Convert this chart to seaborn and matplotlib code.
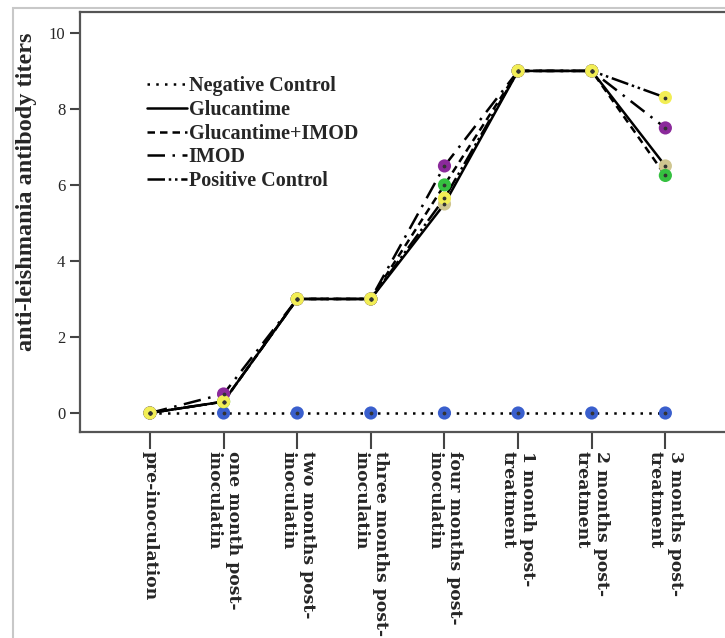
import matplotlib
matplotlib.use("Agg")
import matplotlib.pyplot as plt
import matplotlib.patches as mpatches
import seaborn as sns
import pandas as pd

# === DATA ===
time_points = ["pre-inoculation", "one month post-\ninoculatin", "two months post-\ninoculatin",
               "three months post-\ninoculatin", "four months post-\ninoculatin",
               "1 month post-\ntreatment", "2 months post-\ntreatment", "3 months post-\ntreatment"]
groups = ["Negative Control", "Glucantime", "Glucantime+IMOD", "IMOD", "Positive Control"]
negative_control = [0, 0, 0, 0, 0, 0, 0, 0]
glucantime = [0, 0.3, 3, 3, 5.5, 9, 9, 6.5]
glucantime_imod = [0, 0.3, 3, 3, 6.0, 9, 9, 6.25]
imod = [0, 0.5, 3, 3, 6.5, 9, 9, 7.5]
positive_control = [0, 0.3, 3, 3, 5.65, 9, 9, 8.3]

series = [negative_control, glucantime, glucantime_imod, imod, positive_control]
rows = []
for g, vals in zip(groups, series):
    for i, v in enumerate(vals):
        rows.append({"pos": i, "titer": v, "group": g})
df = pd.DataFrame(rows)

# === STYLE ===
sns.set_style("ticks")
plt.rcParams["font.family"] = ["Liberation Serif", "DejaVu Serif"]

dashes = {
    "Negative Control": (1, 2.5),
    "Glucantime": "",
    "Glucantime+IMOD": (3, 2),
    "IMOD": (7, 3, 1, 3),
    "Positive Control": (7, 1.5, 1, 1.5, 1, 1.5),
}
marker_colors = {
    "Negative Control": "#3a5fcd",
    "Glucantime": "#cfc690",
    "Glucantime+IMOD": "#35c040",
    "IMOD": "#8b2a9b",
    "Positive Control": "#f2ee55",
}

fig = plt.figure(figsize=(7.25, 6.38), dpi=100)
ax = fig.add_axes([80 / 725, 1 - 432 / 638, 1 - 80 / 725, (432 - 12) / 638])

# light frame around the chart
fig.add_artist(mpatches.Rectangle((13 / 725, -0.02), 1.0, 1 - 8 / 638 + 0.02,
                                  transform=fig.transFigure, fill=False,
                                  edgecolor="#c8c8c8", lw=1.5))

sns.lineplot(data=df, x="pos", y="titer", style="group", style_order=groups,
             dashes=dashes, color="black", linewidth=1.8, estimator=None,
             sort=False, ax=ax)
sns.scatterplot(data=df, x="pos", y="titer", hue="group", hue_order=groups,
                palette=marker_colors, s=90, edgecolor="none", legend=False,
                zorder=5, ax=ax)
ax.scatter(df["pos"], df["titer"], s=3, color="#333333", zorder=6)

ax.set_xlim(-0.95, 7.81)
ax.set_ylim(-0.5, 10.55)
ax.set_yticks([0, 2, 4, 6, 8, 10])
ax.set_xticks(range(len(time_points)))
ax.set_xticklabels(time_points, rotation=-90, rotation_mode="anchor",
                   ha="left", va="center", fontsize=12.4, fontweight="bold",
                   family=["DejaVu Serif"])
ax.tick_params(axis="x", length=12, width=1.5, color="#444444", pad=2)
ax.tick_params(axis="y", length=7, width=1.5, color="#444444", labelsize=12)
ax.set_xlabel("")
ax.set_ylabel("anti-leishmania antibody titers", fontsize=17.5, fontweight="bold")
ax.yaxis.set_label_coords(-0.066, 0.571)
for s in ["left", "top", "bottom"]:
    ax.spines[s].set_color("#555555")
    ax.spines[s].set_linewidth(1.6)
ax.spines["right"].set_visible(False)

leg = ax.legend(loc="upper left", bbox_to_anchor=(0.075, 0.89), frameon=False,
                handlelength=2.0, handletextpad=0.1, labelspacing=0.18,
                prop={"weight": "bold", "size": 14.5})
for h in leg.get_lines():
    h.set_linewidth(1.8)

fig.savefig("out.png", dpi=100)
